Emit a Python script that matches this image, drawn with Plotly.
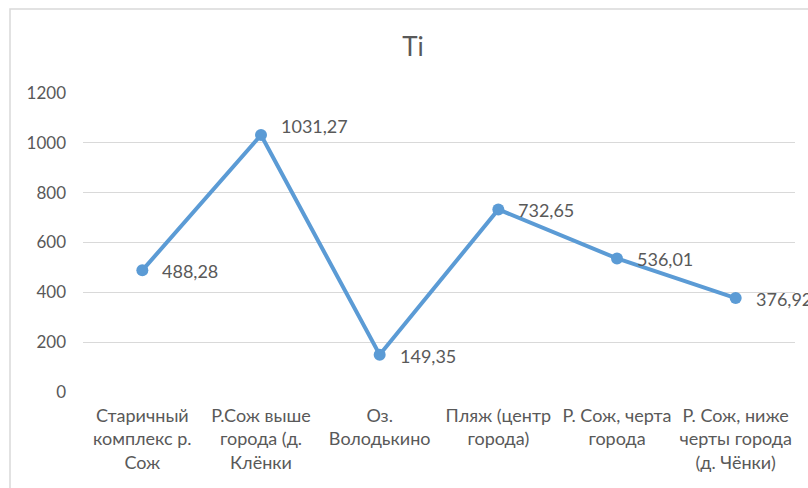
import plotly.graph_objects as go

categories = [
    "Старичный<br>комплекс р.<br>Сож",
    "Р.Сож выше<br>города (д.<br>Клёнки",
    "Оз.<br>Володькино",
    "Пляж (центр<br>города)",
    "Р. Сож, черта<br>города",
    "Р. Сож, ниже<br>черты города<br>(д. Чёнки)",
]
values = [488.28, 1031.27, 149.35, 732.65, 536.01, 376.92]
y_ticks = [0, 200, 400, 600, 800, 1000, 1200]
title_text = "Ti"

FONT = "Lato"
GRAY = "#595959"
BLUE = "#5B9BD5"

fig = go.Figure()
fig.add_trace(go.Scatter(
    x=list(range(len(categories))), y=values,
    mode="lines+markers",
    line=dict(color=BLUE, width=4),
    marker=dict(color=BLUE, size=12),
    hoverinfo="skip",
))

for i, v in enumerate(values):
    fig.add_annotation(
        x=i, y=v, text=f"{v:.2f}".replace(".", ","),
        showarrow=False, xanchor="left", yanchor="middle",
        xshift=18, yshift=(9 if i == 1 else -1),
        font=dict(family=FONT, size=18, color=GRAY),
    )

# chart border (Excel-style frame)
fig.add_shape(type="rect", xref="paper", yref="paper",
              x0=(10 - 83) / 712, x1=1.2, y0=-0.6, y1=(392 - 9) / 299,
              line=dict(color="#D9D9D9", width=1.5), fillcolor="rgba(0,0,0,0)", layer="below")

fig.update_layout(
    width=808, height=488,
    margin=dict(l=83, r=13, t=93, b=96),
    paper_bgcolor="white", plot_bgcolor="white",
    showlegend=False,
    title=dict(text=title_text, x=(413) / 808, xanchor="center", y=1 - 47 / 488, yanchor="middle",
               font=dict(family=FONT, size=26, color=GRAY)),
    font=dict(family=FONT, color=GRAY),
)
fig.update_xaxes(
    range=[-0.5, len(categories) - 0.5],
    tickmode="array", tickvals=list(range(len(categories))), ticktext=categories,
    showgrid=False, zeroline=False, showline=False, ticks="",
    ticklabelstandoff=11,
    tickfont=dict(family=FONT, size=18, color=GRAY),
)
fig.update_yaxes(
    range=[0, 1200], tickmode="array", tickvals=y_ticks,
    showgrid=True, gridcolor="#D9D9D9", gridwidth=1,
    zeroline=False, showline=False, ticks="",
    ticklabelstandoff=16,
    tickfont=dict(family=FONT, size=17, color=GRAY),
)

fig.write_html("out.html")
